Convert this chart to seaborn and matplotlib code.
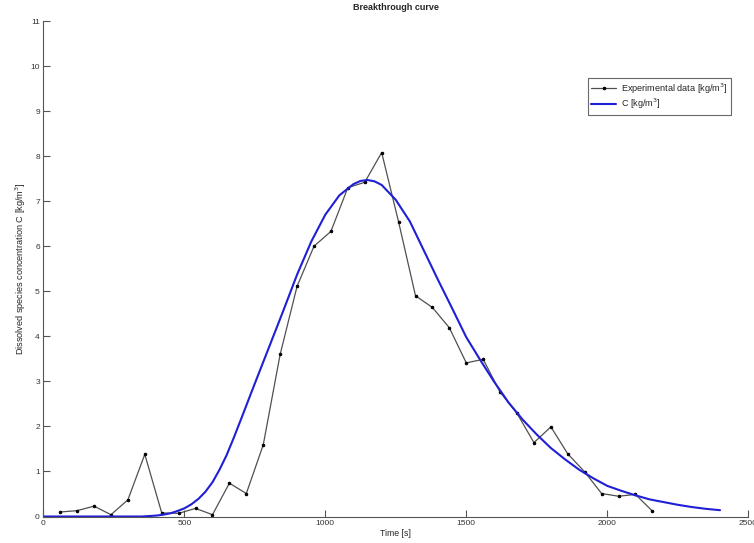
"""
Breakthrough curve: measured concentration versus the fitted model curve.
"""

import matplotlib

matplotlib.use("Agg")

import matplotlib.pyplot as plt
import pandas as pd
import seaborn as sns

# experimental samples, every 60 s
exp_time = [60, 120, 180, 240, 300, 360, 420, 480, 540, 600, 660, 720,
            780, 840, 900, 960, 1020, 1080, 1140, 1200, 1260, 1320, 1380, 1440,
            1500, 1560, 1620, 1680, 1740, 1800, 1860, 1920, 1980, 2040, 2100, 2160]
exp_conc = [0.10, 0.13, 0.23, 0.04, 0.37, 1.38, 0.08, 0.07, 0.18, 0.04, 0.74, 0.51,
            1.59, 3.60, 5.11, 6.00, 6.33, 7.30, 7.42, 8.08, 6.54, 4.90, 4.64, 4.19,
            3.41, 3.49, 2.76, 2.29, 1.64, 1.99, 1.39, 0.99, 0.51, 0.45, 0.49, 0.12]

# model curve
model_time = [0, 100, 200, 300, 350, 400, 425, 450, 475, 500, 525, 550, 575, 600,
              625, 650, 675, 700, 750, 800, 850, 900, 950, 1000, 1050, 1100, 1125,
              1150, 1175, 1200, 1250, 1300, 1350, 1400, 1450, 1500, 1550, 1600,
              1650, 1700, 1750, 1800, 1850, 1900, 1950, 2000, 2050, 2100, 2150,
              2200, 2250, 2300, 2350, 2400]
model_conc = [0.0, 0.0, 0.0, 0.0, 0.0, 0.02, 0.04, 0.07, 0.12, 0.18, 0.27, 0.39, 0.55,
              0.76, 1.04, 1.36, 1.74, 2.14, 2.95, 3.75, 4.55, 5.37, 6.10, 6.70, 7.13,
              7.38, 7.45, 7.47, 7.44, 7.36, 7.03, 6.55, 5.90, 5.25, 4.62, 3.98, 3.47,
              2.98, 2.53, 2.15, 1.82, 1.52, 1.27, 1.04, 0.85, 0.68, 0.57, 0.47,
              0.38, 0.32, 0.26, 0.21, 0.17, 0.14]

x_ticks = [0, 500, 1000, 1500, 2000, 2500]
y_ticks = list(range(0, 12))

exp_df = pd.DataFrame({"time": exp_time, "conc": exp_conc})
model_df = pd.DataFrame({"time": model_time, "conc": model_conc})

sns.set_style("white")
plt.rcParams["font.family"] = ["Liberation Sans", "DejaVu Sans"]

fig = plt.figure(figsize=(7.54, 5.43), dpi=100)
ax = fig.add_axes([0.0574, 0.0488, 0.935, 0.9125])

sns.lineplot(data=exp_df, x="time", y="conc", ax=ax, color="#505050", linewidth=0.9,
             marker="o", markersize=1.8, markerfacecolor="black", markeredgecolor="black",
             label="Experimental data [kg/m$^3$]")
sns.lineplot(data=model_df, x="time", y="conc", ax=ax, color="#1f1fd6", linewidth=1.5,
             label="C [kg/m$^3$]")

ax.set_xlim(0, 2500)
ax.set_ylim(0, 11)
ax.set_xticks(x_ticks)
ax.set_yticks(y_ticks)
ax.tick_params(bottom=True, left=True, direction="in", length=5, width=0.8,
               color="#555555", labelsize=6, labelcolor="#333333", pad=2.5)

for side in ["top", "right"]:
    ax.spines[side].set_visible(False)
for side in ["left", "bottom"]:
    ax.spines[side].set_color("#555555")
    ax.spines[side].set_linewidth(0.8)

ax.set_title("Breakthrough curve", fontsize=6.5, fontweight="bold", pad=8)
ax.set_xlabel("Time [s]", fontsize=6.3, labelpad=1.5)
ax.set_ylabel("Dissolved species concentration C [kg/m$^3$]", fontsize=6.6, labelpad=2)

# legend box sits a little below the top right corner
leg = ax.legend(loc="upper left", bbox_to_anchor=(0.772, 0.885), fontsize=6.6,
                frameon=True, fancybox=False, handlelength=2.8, handletextpad=0.5,
                borderpad=0.35, labelspacing=0.15, borderaxespad=0)
leg.get_frame().set_edgecolor("#444444")
leg.get_frame().set_linewidth(0.8)

fig.savefig("out.png", dpi=100)
